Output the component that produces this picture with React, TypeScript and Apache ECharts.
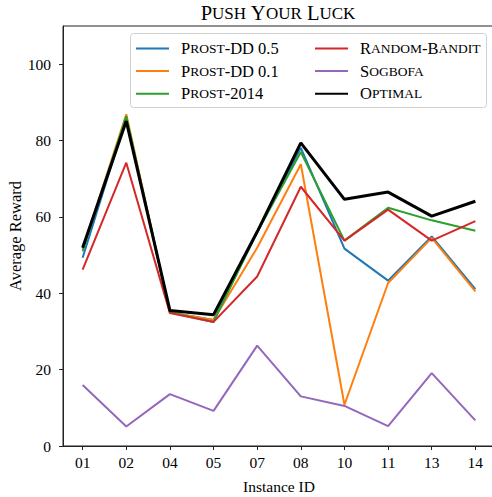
import React, { useEffect, useRef } from "react";
import * as echarts from "echarts";

const categories = ["01", "02", "04", "05", "07", "08", "10", "11", "13", "14"];
const yTicks = [0, 20, 40, 60, 80, 100];

const prostDD05 = [49.3, 86.0, 35.0, 33.0, 56.0, 78.1, 51.7, 43.3, 54.9, 41.1];
const prostDD01 = [51.5, 86.9, 35.0, 33.0, 51.9, 73.8, 10.8, 42.7, 54.5, 40.5];
const prost2014 = [51.0, 86.4, 35.0, 32.5, 56.0, 77.0, 53.8, 62.4, 59.1, 56.4];
const randomBandit = [46.2, 74.2, 34.8, 32.5, 44.4, 67.9, 53.8, 61.9, 53.8, 58.9];
const sogbofa = [16.0, 5.1, 13.6, 9.2, 26.3, 13.0, 10.5, 5.2, 19.1, 6.7];
const optimal = [51.9, 85.1, 35.5, 34.4, 56.1, 79.4, 64.6, 66.5, 60.2, 64.1];

const seriesDefs = [
  { name: "Prost-DD 0.5", data: prostDD05, color: "#1f77b4", width: 2 },
  { name: "Prost-DD 0.1", data: prostDD01, color: "#ff7f0e", width: 2 },
  { name: "Prost-2014", data: prost2014, color: "#2ca02c", width: 2 },
  { name: "Random-Bandit", data: randomBandit, color: "#d62728", width: 2 },
  { name: "Sogbofa", data: sogbofa, color: "#9467bd", width: 2 },
  { name: "Optimal", data: optimal, color: "#000000", width: 3 },
];

const FONT = "'Liberation Serif', 'DejaVu Serif', serif";

function smallCaps(s: string, big: string, small: string): string {
  let out = "";
  let cur = "";
  let curType = "";
  for (const ch of s) {
    const isLower = ch !== ch.toUpperCase();
    const t = isLower ? small : big;
    const c = isLower ? ch.toUpperCase() : ch;
    if (t !== curType && cur) {
      out += `{${curType}|${cur}}`;
      cur = "";
    }
    curType = t;
    cur += c;
  }
  if (cur) out += `{${curType}|${cur}}`;
  return out;
}

export default function App() {
  const ref = useRef<HTMLDivElement>(null);
  useEffect(() => {
    if (!ref.current) return;
    const chart = echarts.init(ref.current, null, { renderer: "svg" });
    const legendRich = {
      sp: { width: 7 },
      B: { fontFamily: FONT, fontSize: 16.5, color: "#000", lineHeight: 14 },
      S: { fontFamily: FONT, fontSize: 13.5, color: "#000", lineHeight: 14 },
    };
    const legendCommon = {
      orient: "vertical" as const,
      padding: 0,
      itemWidth: 33,
      itemHeight: 14,
      itemGap: 5.6,
      itemStyle: { opacity: 0, borderWidth: 0 },
      formatter: (n: string) => "{sp|}" + smallCaps(n, "B", "S"),
      textStyle: { rich: legendRich },
    };
    chart.setOption({
      animation: false,
      backgroundColor: "#fff",
      graphic: [
        {
          type: "rect",
          z: 1,
          shape: { x: 130.5, y: 33.5, width: 356, height: 74, r: 3 },
          style: { fill: "rgba(255,255,255,0.8)", stroke: "#d0d0d0", lineWidth: 1 },
        },
        {
          type: "text",
          z: 10,
          x: 278,
          y: 13,
          style: {
            text: smallCaps("Push Your Luck", "B", "S"),
            align: "center",
            verticalAlign: "middle",
            rich: {
              B: { fontFamily: FONT, fontSize: 20.5, color: "#000" },
              S: { fontFamily: FONT, fontSize: 17, color: "#000" },
            },
          },
        },
      ],
      legend: [
        { ...legendCommon, left: 135, top: 40, data: seriesDefs.slice(0, 3).map((s) => s.name) },
        { ...legendCommon, left: 314, top: 40, data: seriesDefs.slice(3).map((s) => s.name) },
      ],
      grid: {
        left: 63,
        top: 26,
        width: 432,
        height: 420,
        show: true,
        borderColor: "#222",
        borderWidth: 1,
        outerBoundsMode: "none",
        containLabel: false,
      },
      xAxis: {
        type: "value",
        min: -0.45,
        max: 9.45,
        name: "Instance ID",
        nameLocation: "middle",
        nameGap: 32,
        nameTextStyle: { fontFamily: FONT, fontSize: 15.5, color: "#000" },
        axisLine: { show: true, onZero: false, lineStyle: { color: "#222", width: 1 } },
        axisTick: { show: true, length: 4, customValues: categories.map((_, i) => i), lineStyle: { color: "#222" } },
        axisLabel: {
          customValues: categories.map((_, i) => i),
          formatter: (v: number) => categories[Math.round(v)] ?? "",
          fontFamily: FONT,
          fontSize: 15.5,
          color: "#000",
          margin: 8,
        },
        splitLine: { show: false },
      },
      yAxis: {
        type: "value",
        min: 0,
        max: 110,
        interval: 20,
        name: "Average Reward",
        nameLocation: "middle",
        nameGap: 39,
        nameMoveOverlap: false,
        nameTextStyle: { fontFamily: FONT, fontSize: 16.5, color: "#000" },
        axisLine: { show: true, onZero: false, lineStyle: { color: "#222", width: 1 } },
        axisTick: { show: true, length: 4, customValues: yTicks, lineStyle: { color: "#222" } },
        axisLabel: {
          customValues: yTicks,
          formatter: (v: number) => String(v),
          fontFamily: FONT,
          fontSize: 15.5,
          color: "#000",
          margin: 12,
        },
        splitLine: { show: false },
      },
      series: seriesDefs.map((s) => ({
        type: "line",
        name: s.name,
        symbol: "none",
        z: 3,
        color: s.color,
        lineStyle: { color: s.color, width: s.width },
        data: s.data.map((v, i) => [i, v]),
      })),
    });
    return () => chart.dispose();
  }, []);
  return (
    <div
      ref={ref}
      style={{ position: "absolute", left: 0, top: 0, width: 492, height: 497 }}
    />
  );
}
